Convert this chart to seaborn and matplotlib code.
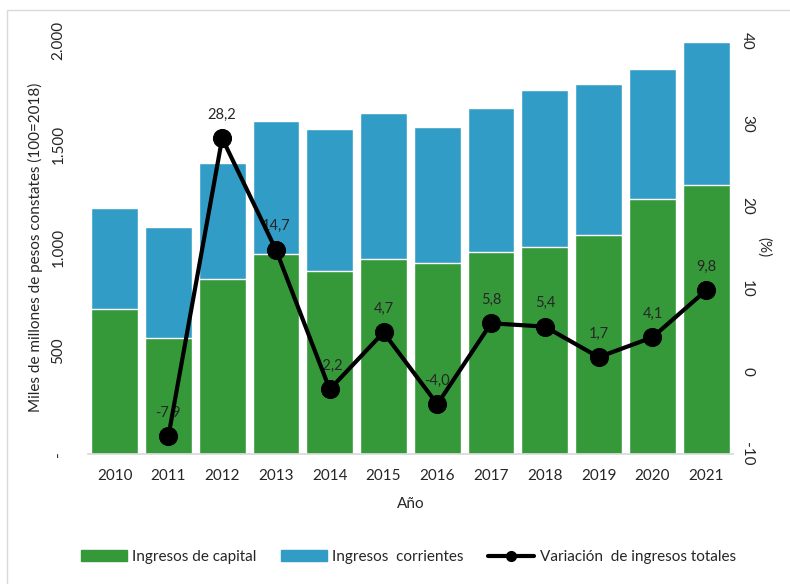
import matplotlib
matplotlib.use('Agg')
import matplotlib.pyplot as plt
import seaborn as sns
import numpy as np
import pandas as pd
from matplotlib.patches import Patch, Rectangle
from matplotlib.lines import Line2D

# datos
years = ['2010', '2011', '2012', '2013', '2014', '2015',
         '2016', '2017', '2018', '2019', '2020', '2021']
capital = [702, 562, 848, 969, 886, 944, 925, 978, 1002, 1061, 1235, 1303]
corrientes = [489, 537, 561, 644, 688, 707, 659, 698, 761, 731, 630, 692]
variacion = [np.nan, -7.9, 28.2, 14.7, -2.2, 4.7, -4.0, 5.8, 5.4, 1.7, 4.1, 9.8]

left_ticks = [0, 500, 1000, 1500, 2000]
left_labels = ['-', '500', '1.000', '1.500', '2.000']
right_ticks = [-10, 0, 10, 20, 30, 40]

green = '#35993a'
blue = '#319dc6'
txt = '#262626'

sns.set_theme(style='white')
plt.rcParams['font.family'] = ['Lato', 'DejaVu Sans']

df = pd.DataFrame({'Año': years, 'capital': capital, 'corrientes': corrientes,
                   'variacion': variacion})
df['total'] = df['capital'] + df['corrientes']
df['pos'] = np.arange(len(df))

fig = plt.figure(figsize=(7.9, 5.84), dpi=100)
ax = fig.add_axes([0.111, 0.223, 0.817, 0.707])

sns.barplot(data=df, x='Año', y='total', color=blue, width=0.87,
            saturation=1, ax=ax)
sns.barplot(data=df, x='Año', y='capital', color=green, width=0.87,
            saturation=1, ax=ax)
ax.set_xlim(-0.5, len(years) - 0.5)
ax.set_ylim(0, 2000)
ax.set_yticks(left_ticks)
ax.set_yticklabels(left_labels, rotation=90, va='center')
ax.tick_params(axis='both', length=0, labelsize=11, colors=txt)
ax.tick_params(axis='x', pad=11)
ax.tick_params(axis='y', pad=16)
ax.set_ylabel('Miles de millones de pesos constates (100=2018)', fontsize=11, color=txt, labelpad=6)
ax.set_xlabel('Año', fontsize=11, color=txt, labelpad=10)
for s in ['top', 'right', 'left']:
    ax.spines[s].set_visible(False)
ax.spines['bottom'].set_color('#d9d9d9')

ax2 = ax.twinx()
sns.lineplot(data=df, x='pos', y='variacion', color='black', lw=3,
             marker='o', markersize=13, markeredgecolor='black', ax=ax2, zorder=4)
for i, v in enumerate(variacion):
    if np.isnan(v):
        continue
    ax2.annotate(f'{v:.1f}'.replace('.', ','), (i, v), xytext=(0, 12),
                 textcoords='offset points', ha='center', va='bottom',
                 fontsize=10.5, color=txt, zorder=3)
ax2.set_ylim(-10, 40)
ax2.set_yticks(right_ticks)
ax2.set_yticklabels([str(t) for t in right_ticks], rotation=-90, va='center')
ax2.tick_params(axis='y', length=0, labelsize=11, colors=txt, pad=5)
ax2.set_ylabel('(%)', rotation=-90, fontsize=11, color=txt, labelpad=2, va='bottom')
ax2.set_xlabel('')
for s in ax2.spines.values():
    s.set_visible(False)
ax2.set_xlim(-0.5, len(years) - 0.5)

handles = [Patch(color=green), Patch(color=blue),
           Line2D([0], [0], color='black', lw=3, marker='o', markersize=7)]
labels = ['Ingresos de capital', 'Ingresos  corrientes', 'Variación  de ingresos totales']
fig.legend(handles, labels, loc='center', bbox_to_anchor=(0.517, 0.046), ncol=3,
           frameon=False, handlelength=3.0, handleheight=0.7, handletextpad=0.35,
           columnspacing=1.6, fontsize=11, labelcolor=txt)

fig.patches.append(Rectangle((7 / 790, -0.1), 1.2, (584 - 10) / 584 + 0.1,
                             transform=fig.transFigure, fill=False,
                             edgecolor='#d9d9d9', lw=1))

fig.savefig('out.png', dpi=100)
